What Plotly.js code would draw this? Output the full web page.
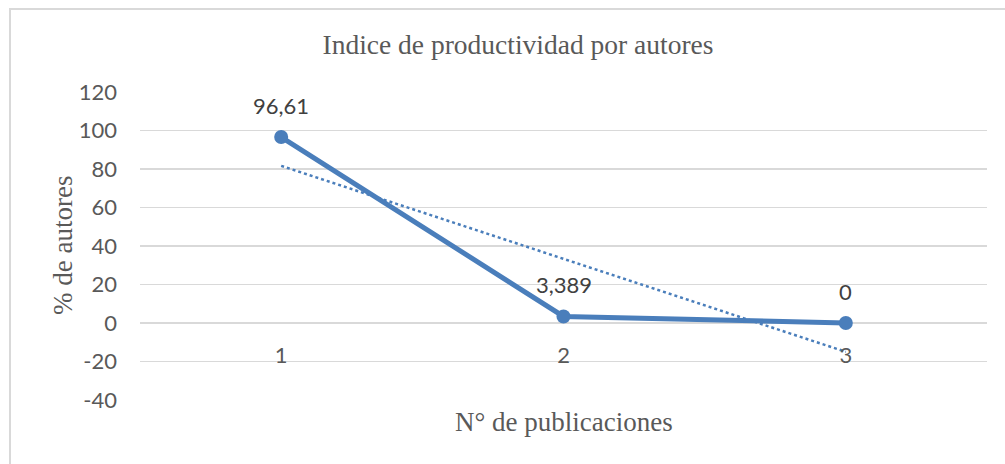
<!DOCTYPE html>
<html>
<head>
<meta charset="utf-8">
<script src="https://cdn.plot.ly/plotly-3.0.1.min.js"></script>
<style>
  body { margin: 0; background: #fff; overflow: hidden; }
  #frame { position: absolute; left: 9px; top: 8px; width: 1000px; height: 470px;
           border: 2px solid #d9d9d9; box-sizing: border-box; }
  #chart { position: absolute; left: 0; top: 0; width: 1005px; height: 464px; }
</style>
</head>
<body>
<div id="frame"></div>
<div id="chart"></div>
<script>
// Data
const publicaciones = [1, 2, 3];
const pctAutores = [96.61, 3.389, 0];
const tickLabels = ['1', '2', '3'];
const yTicks = [-40, -20, 0, 20, 40, 60, 80, 100, 120];

const blue = '#4a7ebb';
const textColor = '#595959';
const sansFont = 'Lato, "Open Sans", sans-serif';
const serifFont = '"Liberation Serif", "Times New Roman", serif';

// linear trend line (least squares), like Excel's
const n = publicaciones.length;
const mx = publicaciones.reduce((a, b) => a + b, 0) / n;
const my = pctAutores.reduce((a, b) => a + b, 0) / n;
let sxy = 0, sxx = 0;
publicaciones.forEach((x, i) => {
  sxy += (x - mx) * (pctAutores[i] - my);
  sxx += (x - mx) * (x - mx);
});
const slope = sxy / sxx;
const trendY = publicaciones.map(x => my + slope * (x - mx));

const yMin = -40, yMax = 120;

const mainTrace = {
  x: publicaciones,
  y: pctAutores,
  type: 'scatter',
  mode: 'lines+markers',
  line: { color: blue, width: 5 },
  marker: { color: blue, size: 14 },
  hoverinfo: 'skip'
};

const trendTrace = {
  x: publicaciones,
  y: trendY,
  type: 'scatter',
  mode: 'lines',
  line: { color: blue, width: 2.5, dash: 'dot' },
  hoverinfo: 'skip'
};

// data labels above the points
const labels = publicaciones.map((x, i) => ({
  x: x,
  y: pctAutores[i],
  text: String(pctAutores[i]).replace('.', ','),
  showarrow: false,
  yshift: 32,
  font: { family: sansFont, size: 22, color: '#404040' }
}));

// axis titles as annotations
labels.push({
  xref: 'paper', yref: 'paper',
  x: 0.5, y: -0.0714,
  xanchor: 'center', yanchor: 'middle',
  text: 'N° de publicaciones',
  showarrow: false,
  font: { family: serifFont, size: 27, color: textColor }
});
labels.push({
  xref: 'paper', yref: 'paper',
  x: (63 - 140) / 847, y: 0.5,
  xanchor: 'center', yanchor: 'middle',
  textangle: -90,
  text: '% de autores',
  showarrow: false,
  font: { family: serifFont, size: 27, color: textColor }
});

const layout = {
  width: 1005,
  height: 464,
  margin: { l: 140, r: 18, t: 92, b: 64 },
  paper_bgcolor: 'rgba(0,0,0,0)',
  plot_bgcolor: 'rgba(0,0,0,0)',
  showlegend: false,
  title: {
    text: 'Indice de productividad por autores',
    font: { family: serifFont, size: 27.5, color: textColor },
    x: 518 / 1005, xanchor: 'center', y: 0.905, yanchor: 'middle'
  },
  xaxis: {
    range: [0.5, 3.5],
    tickvals: publicaciones,
    ticktext: tickLabels,
    anchor: 'free',
    position: (0 - yMin) / (yMax - yMin),
    showgrid: false,
    zeroline: false,
    showline: false,
    ticks: '',
    ticklabelstandoff: 17,
    tickfont: { family: sansFont, size: 22, color: textColor },
    fixedrange: true
  },
  yaxis: {
    range: [yMin, yMax],
    tickvals: yTicks,
    ticktext: yTicks.map(String),
    showgrid: true,
    gridcolor: '#d9d9d9',
    gridwidth: 1.3,
    zeroline: true,
    zerolinecolor: '#d9d9d9',
    zerolinewidth: 1.3,
    showline: false,
    ticks: '',
    ticklabelstandoff: 22,
    tickfont: { family: sansFont, size: 22, color: textColor },
    fixedrange: true
  },
  annotations: labels
};

Plotly.newPlot('chart', [trendTrace, mainTrace], layout, { displayModeBar: false, staticPlot: true });
</script>
</body>
</html>
